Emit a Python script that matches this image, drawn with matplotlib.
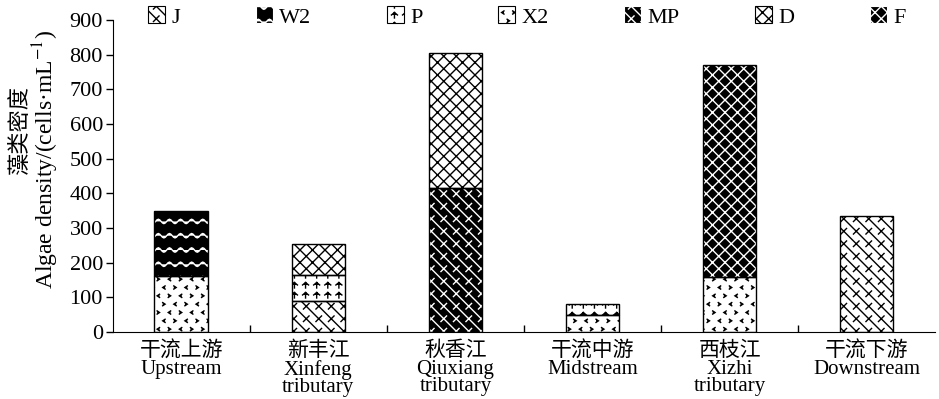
import warnings
import numpy as np
import matplotlib
matplotlib.use('Agg')
import matplotlib.pyplot as plt
import matplotlib.hatch as mhatch
from matplotlib.path import Path
from matplotlib.patches import Patch

warnings.filterwarnings('ignore')

# data (cells/mL)
sites = ['干流上游\nUpstream', '新丰江\nXinfeng\ntributary', '秋香江\nQiuxiang\ntributary',
         '干流中游\nMidstream', '西枝江\nXizhi\ntributary', '干流下游\nDownstream']
J = [0, 90, 0, 0, 0, 335]
X2 = [160, 0, 0, 48, 158, 0]
MP = [0, 0, 415, 0, 0, 0]
P = [0, 75, 0, 32, 0, 0]
W2 = [190, 0, 0, 0, 0, 0]
D = [0, 90, 390, 0, 0, 0]
F = [0, 0, 0, 0, 612, 0]


# extra hatch patterns: waves (w), chevrons (v), umbrellas (u),
# fine crosshatch (k), backslash with ticks (n)
class WaveHatch(mhatch.HatchPatternBase):
    def __init__(self, hatch, density):
        self.rows = hatch.count('w') * 7
        self.waves = 9
        self.per_row = self.waves * 8 + 1
        self.num_vertices = self.rows * self.per_row

    def set_vertices_and_codes(self, vertices, codes):
        t = np.linspace(0, 1, self.per_row)
        k = 0
        for i in range(self.rows):
            y0 = (i + 0.5) / self.rows
            vertices[k:k + self.per_row, 0] = t
            vertices[k:k + self.per_row, 1] = y0 + 0.022 * np.sin(2 * np.pi * self.waves * t)
            codes[k] = Path.MOVETO
            codes[k + 1:k + self.per_row] = Path.LINETO
            k += self.per_row


class ChevronHatch(mhatch.HatchPatternBase):
    def __init__(self, hatch, density):
        self.nx = hatch.count('v') * 9
        self.ny = hatch.count('v') * 12
        self.num_vertices = self.nx * self.ny * 3

    def set_vertices_and_codes(self, vertices, codes):
        k = 0
        for i in range(self.ny):
            for j in range(self.nx):
                x = (j + 0.5 * (i % 2) + 0.25) / self.nx
                y = (i + 0.5) / self.ny
                s = 1 if (i // 2 + j) % 2 == 0 else -1
                vertices[k] = (x - s * 0.012, y + 0.016)
                vertices[k + 1] = (x + s * 0.012, y)
                vertices[k + 2] = (x - s * 0.012, y - 0.016)
                codes[k] = Path.MOVETO
                codes[k + 1:k + 3] = Path.LINETO
                k += 3


class UmbrellaHatch(mhatch.HatchPatternBase):
    def __init__(self, hatch, density):
        self.rows = hatch.count('u') * 10
        self.cols = hatch.count('u') * 9
        self.num_vertices = self.rows * self.cols * 5

    def set_vertices_and_codes(self, vertices, codes):
        k = 0
        for i in range(self.rows):
            for j in range(self.cols):
                x = (j + 0.5) / self.cols
                y = (i + 0.5) / self.rows
                vertices[k] = (x - 0.03, y)
                vertices[k + 1] = (x, y + 0.025)
                vertices[k + 2] = (x + 0.03, y)
                vertices[k + 3] = (x, y + 0.025)
                vertices[k + 4] = (x, y - 0.03)
                codes[k] = Path.MOVETO
                codes[k + 1:k + 3] = Path.LINETO
                codes[k + 3] = Path.MOVETO
                codes[k + 4] = Path.LINETO
                k += 5


class FineCrossHatch(mhatch.HatchPatternBase):
    def __init__(self, hatch, density):
        self.h = 1 / 8
        self.cs = np.arange(0, 2 + 1e-9, self.h) if 'k' in hatch else np.array([])
        self.num_vertices = len(self.cs) * 4

    def set_vertices_and_codes(self, vertices, codes):
        k = 0
        for c in self.cs:
            vertices[k] = (c - 1, 1)
            vertices[k + 1] = (c, 0)
            vertices[k + 2] = (c - 1, 0)
            vertices[k + 3] = (c, 1)
            codes[k] = Path.MOVETO
            codes[k + 1] = Path.LINETO
            codes[k + 2] = Path.MOVETO
            codes[k + 3] = Path.LINETO
            k += 4


class LadderHatch(mhatch.HatchPatternBase):
    def __init__(self, hatch, density):
        self.h = 1 / 8
        if 'n' in hatch:
            self.cs = np.arange(0, 2 + 1e-9, self.h)
            self.ts = np.arange(self.h / 2, 1, self.h)
        else:
            self.cs = np.array([])
            self.ts = np.array([])
        self.num_vertices = len(self.cs) * 2 + len(self.cs) * len(self.ts) * 2

    def set_vertices_and_codes(self, vertices, codes):
        k = 0
        d = 0.028
        for c in self.cs:
            vertices[k] = (c - 1, 1)
            vertices[k + 1] = (c, 0)
            codes[k] = Path.MOVETO
            codes[k + 1] = Path.LINETO
            k += 2
            for t in self.ts:
                vertices[k] = (c - t - d, t - d)
                vertices[k + 1] = (c - t + d, t + d)
                codes[k] = Path.MOVETO
                codes[k + 1] = Path.LINETO
                k += 2


mhatch._hatch_types.extend([WaveHatch, ChevronHatch, UmbrellaHatch,
                            FineCrossHatch, LadderHatch])

plt.rcParams['font.family'] = ['Liberation Serif', 'Noto Sans CJK SC']
plt.rcParams['mathtext.fontset'] = 'stix'
plt.rcParams['hatch.linewidth'] = 1.0

# name, values, face, hatch, hatch colour
series = [
    ('J', J, 'white', 'n', 'black'),
    ('X2', X2, 'white', 'v', 'black'),
    ('MP', MP, 'black', 'n', 'white'),
    ('P', P, 'white', 'u', 'black'),
    ('W2', W2, 'black', 'w', 'white'),
    ('D', D, 'white', 'k', 'black'),
    ('F', F, 'black', 'k', 'white'),
]

fig = plt.figure(figsize=(9.39, 3.99), dpi=100)
ax = fig.add_axes([0.120, 0.168, 0.876, 0.782])

x = np.arange(len(sites))
w = 0.39
bottom = np.zeros(len(sites))
handles = {}
for name, vals, face, hatch, hc in series:
    vals = np.array(vals, dtype=float)
    m = vals > 0
    ax.bar(x[m], vals[m], w, bottom=bottom[m], color=face, edgecolor=hc,
           hatch=hatch, linewidth=0, zorder=2)
    ax.bar(x[m], vals[m], w, bottom=bottom[m], fill=False, edgecolor='black',
           linewidth=1.0, zorder=3)
    bottom += vals
    handles[name] = Patch(facecolor=face, edgecolor=hc, hatch=hatch, linewidth=0.8)

order = ['J', 'W2', 'P', 'X2', 'MP', 'D', 'F']
fig.legend([handles[n] for n in order], order, ncol=7, loc='center left',
           bbox_to_anchor=(148 / 939, 1 - 17 / 399), frameon=False, fontsize=16,
           handlelength=0.77, handleheight=0.77, handletextpad=0.3,
           columnspacing=3.38, borderaxespad=0, borderpad=0)

ax.set_xlim(-0.5, 5.5)
ax.set_ylim(0, 900)
ax.set_yticks(np.arange(0, 901, 100))
ax.tick_params(axis='y', direction='out', length=5, width=1, labelsize=16, pad=2)
ax.set_xticks(np.arange(0.5, 5, 1))
ax.set_xticklabels([])
ax.tick_params(axis='x', which='major', direction='in', length=5, width=1)
ax.set_xticks(x, minor=True)
ax.set_xticklabels(sites, minor=True, fontsize=15, linespacing=0.9)
ax.tick_params(axis='x', which='minor', length=0, pad=7)

for s in ['top', 'right']:
    ax.spines[s].set_visible(False)

fig.text(20 / 939, 1 - 130 / 399, '藻类密度', rotation=90, ha='center', va='center',
         fontsize=16)
fig.text(46 / 939, 1 - 160 / 399, 'Algae density/(cells·mL$^{-1}$)', rotation=90,
         ha='center', va='center', fontsize=17)

fig.savefig('out.png', dpi=100)
